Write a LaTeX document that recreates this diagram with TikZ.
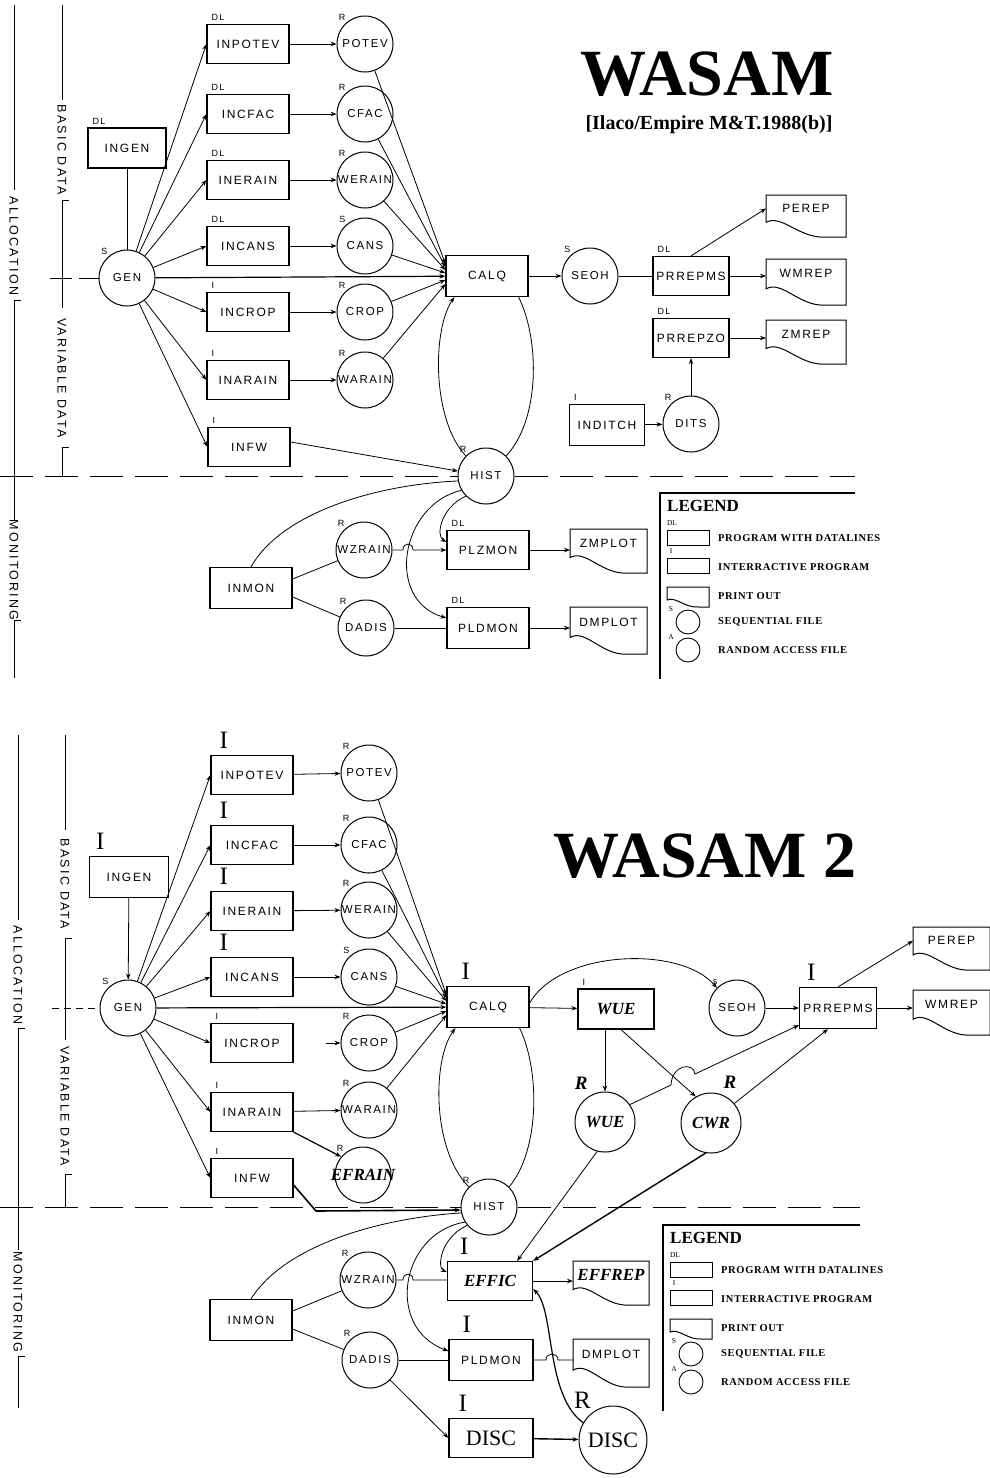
\documentclass[tikz,border=0pt]{standalone}
\usepackage{fontspec}
\setmainfont{Liberation Serif}
\newfontfamily\lettering[LetterSpace=14]{Liberation Sans}
\newfontfamily\rulerfont[LetterSpace=18]{Liberation Sans}
\newfontfamily\legendfont[LetterSpace=6]{Liberation Serif}
\usetikzlibrary{arrows.meta, calc}

\newcommand{\emphlbl}{\rmfamily\bfseries\itshape\fontsize{17}{17}\selectfont}
\newcommand{\disclbl}{\rmfamily\fontsize{22}{22}\selectfont}

\tikzset{
  prog/.style={draw, line width=1.2pt, minimum width=82pt, minimum height=39pt, inner sep=0pt,
    font=\lettering\fontsize{12}{12}\selectfont},
  file/.style={draw, circle, line width=1pt, minimum size=56pt, inner sep=0pt,
    font=\lettering\fontsize{11.5}{12}\selectfont},
  prtext/.style={font=\lettering\fontsize{12}{12}\selectfont, inner sep=0pt},
  tag/.style={font=\lettering\fontsize{9}{9}\selectfont, inner sep=1pt},
  bigtag/.style={font=\rmfamily\fontsize{25}{25}\selectfont, inner sep=0pt},
  dl/.style={label={[tag, anchor=south west, xshift=4pt, yshift=2pt]north west:#1}},
  bigI/.style={label={[bigtag, anchor=south west, xshift=#1, yshift=6pt]north west:I}},
  bigI/.default=9pt,
  ftag/.style={label={[tag]130:#1}},
  bigR/.style={label={[bigtag, font=\rmfamily\bfseries\itshape\fontsize{19}{19}\selectfont, label distance=6pt]#1:R}},
  flow/.style={line width=0.8pt, -{Stealth[length=6pt, width=4.5pt]}},
  link/.style={line width=0.8pt},
  divider/.style={line width=1pt, dash pattern=on 33pt off 12pt},
  rulertext/.style={font=\rulerfont\fontsize{12.5}{12.5}\selectfont, rotate=-90, inner sep=0pt},
  titlefont/.style={font=\rmfamily\bfseries\fontsize{66}{66}\selectfont, inner sep=0pt},
  sourcefont/.style={font=\rmfamily\bfseries\fontsize{20}{20}\selectfont, inner sep=0pt},
  legtitle/.style={anchor=west, font=\rmfamily\bfseries\fontsize{17}{17}\selectfont, inner sep=0pt},
  legtext/.style={anchor=west, font=\legendfont\bfseries\fontsize{10.5}{11}\selectfont, inner sep=0pt},
  legtag/.style={font=\rmfamily\fontsize{7.5}{7.5}\selectfont, inner sep=0pt},
}

% print out: name, top left corner, width, height, text
\newcommand{\printout}[5]{%
  \begin{scope}[shift={(#2)}]
    \draw[line width=1pt] (0,0) -- (0,{0.65*#4})
      .. controls ({0.2*#3},{0.45*#4}) and ({0.42*#3},{1.05*#4}) .. ({0.75*#3},#4)
      -- (#3,#4) -- (#3,0) -- cycle;
    \node[prtext] (#1) at ({0.5*#3},{0.32*#4}) {#5};
    \coordinate (#1-w) at (0,{0.32*#4});
  \end{scope}}

% legend: corner, length of the top line
\newcommand{\legendframe}[2]{%
  \begin{scope}[shift={(#1)}]
    \draw[line width=1.2pt] (0,186) -- (0,0) -- (#2,0);
    \node[legtitle] (legtitle) at (7,13) {LEGEND};
    \node[legtag] (legdl) at (12,30) {DL};
    \draw[line width=0.9pt] (7,37) rectangle (49,52);
    \node[legtext] (legprog) at (58,45) {PROGRAM WITH DATALINES};
    \node[legtag] (legi) at (11,58) {I};
    \draw[line width=0.9pt] (7,65) rectangle (49,80);
    \node[legtext] (leginter) at (58,74) {INTERRACTIVE PROGRAM};
    \printout{legprint}{7,94}{42}{20}{}
    \node[legtext] (legpo) at (58,103) {PRINT OUT};
    \node[legtag] (legs) at (11,116) {S};
    \node[draw, circle, minimum size=24pt, inner sep=0pt, line width=0.9pt] (legseq) at (28,129) {};
    \node[legtext] (legseqt) at (58,129) {SEQUENTIAL FILE};
    \node[legtag] (lega) at (11,144) {A};
    \node[draw, circle, minimum size=24pt, inner sep=0pt, line width=0.9pt] (legran) at (28,157) {};
    \node[legtext] (legrant) at (58,157) {RANDOM ACCESS FILE};
  \end{scope}}

\begin{document}
\begin{tikzpicture}[x=1pt, y=-1pt]
\useasboundingbox (0,0) rectangle (989,1478);

%%%%%%%%%%%%%%%% WASAM %%%%%%%%%%%%%%%%
\begin{scope}[name prefix=top-]
  % rulers on the left
  \draw[link] (14,5) -- (14,190) (14,300) -- (14,520) (14,620) -- (14,678);
  \draw[link] (62,5) -- (62,100) (62,200) -- (62,308) (62,447) -- (62,476);
  \draw[link] (14,300) -- (21,300) (14,620) -- (21,620) (62,200) -- (69,200) (62,447) -- (69,447);
  \node[rulertext] (alloc) at (14,246) {ALLOCATION};
  \node[rulertext] (monit) at (14,570) {MONITORING};
  \node[rulertext] (basic) at (62,150) {BASIC DATA};
  \node[rulertext] (variable) at (62,378) {VARIABLE DATA};

  % title
  \node[titlefont] (title) at (707,74) {WASAM};
  \node[sourcefont] (source) at (709,125) {[Ilaco/Empire M\&T.1988(b)]};

  % general data
  \node[prog, minimum width=78pt, minimum height=40pt, dl=DL] (ingen) at (127,148) {INGEN};
  \node[file, ftag=S] (gen) at (127,278) {GEN};
  \draw[link] (ingen) -- (gen);
  \draw[link] (50,278) -- (72,278);
  \draw[link] (79,278) -- (gen.west);

  % input programs and their files
  \foreach \n/\t/\y/\k/\c/\ct/\ck in {inpotev/INPOTEV/44/DL/potev/POTEV/R,
      incfac/INCFAC/114/DL/cfac/CFAC/R, inerain/INERAIN/180/DL/werain/WERAIN/R,
      incans/INCANS/246/DL/cans/CANS/S, incrop/INCROP/312/I/crop/CROP/R,
      inarain/INARAIN/380/I/warain/WARAIN/R}
  {
    \node[prog, dl=\k] (\n) at (248,\y) {\t};
    \node[file, ftag=\ck] (\c) at (365,\y) {\ct};
    \draw[flow] (\n) -- (\c);
  }
  \node[prog, dl=I] (infw) at (249,447) {INFW};
  \foreach \n in {inpotev, incfac, inerain, incans, incrop, inarain, infw}
    \draw[flow] (gen) -- (\n.west);

  % calculation
  \node[prog, minimum height=41pt] (calq) at (487,276) {CALQ};
  \node[file, ftag=R] (hist) at (486,476) {HIST};
  \foreach \c/\o in {potev/-12, cfac/-9, werain/-6, cans/-3, crop/4, warain/8}
    \draw[flow] (\c) -- ($(calq.west)+(0,\o)$);
  \draw[flow, line width=1.2pt] (gen) -- (calq);
  \draw[flow] (hist.135) .. controls (432,420) and (432,330) .. ($(calq.south west)+(9,0)$);
  \draw[link] ($(calq.south east)+(-10,0)$) .. controls (540,340) and (540,420) .. (hist.45);
  \draw[flow] ($(infw.east)+(0,-5)$) -- (hist.170);

  % border allocation / monitoring
  \draw[divider] (0,476) -- (hist.west);
  \draw[divider] (hist.east) -- (855,476);

  % reports
  \node[file, ftag=S] (seoh) at (590,276) {SEOH};
  \node[prog, minimum width=76pt, dl=DL] (prrepms) at (691,276) {PRREPMS};
  \node[prog, minimum width=76pt, dl=DL] (prrepzo) at (691,338) {PRREPZO};
  \printout{perep}{766,195}{80}{42}{PEREP}
  \printout{wmrep}{766,259}{80}{46}{WMREP}
  \printout{zmrep}{766,320}{80}{44}{ZMREP}
  \node[prog, minimum width=75pt, minimum height=41pt, dl=I] (inditch) at (607,425) {INDITCH};
  \node[file, ftag=R] (dits) at (691,424) {DITS};
  \draw[flow] (calq) -- (seoh);
  \draw[link] (seoh) -- (prrepms);
  \draw[flow] (prrepms.north) -- (perep-w);
  \draw[flow] (prrepms.east) -- (prrepms.east -| wmrep-w);
  \draw[flow] (prrepzo.east) -- (prrepzo.east -| zmrep-w);
  \draw[flow] (inditch) -- (dits);
  \draw[flow] (dits) -- (prrepzo);

  % monitoring
  \node[prog, minimum height=41pt] (inmon) at (251,588) {INMON};
  \node[file, ftag=R] (wzrain) at (364,550) {WZRAIN};
  \node[file, ftag=R] (dadis) at (366,628) {DADIS};
  \node[prog, dl=DL] (plzmon) at (488,550) {PLZMON};
  \node[prog, minimum height=41pt, dl=DL] (pldmon) at (488,628) {PLDMON};
  \printout{zmplot}{570,529}{77}{44}{ZMPLOT}
  \printout{dmplot}{570,607}{77}{47}{DMPLOT}
  \coordinate (hopl) at (403,550);
  \coordinate (hopr) at (413,550);
  \draw[link] (inmon.north) .. controls (280,515) and (370,485) .. (hist.190);
  \draw[link] ($(inmon.east)+(0,-9)$) -- (wzrain);
  \draw[link] ($(inmon.east)+(0,9)$) -- (dadis);
  \draw[flow] (wzrain) -- (hopl) .. controls +(0,-8) and +(0,-8) .. (hopr) -- (plzmon.west |- wzrain);
  \draw[link] (dadis) -- (pldmon);
  \draw[flow] (hist.225) .. controls (440,508) and (436,536) .. ($(plzmon.west)+(0,-8)$);
  \draw[flow] (hist.210) .. controls (400,505) and (385,600) .. ($(pldmon.west)+(0,-10)$);
  \draw[flow] (plzmon.east) -- (plzmon.east -| zmplot-w);
  \draw[flow] (pldmon.east) -- (pldmon.east -| dmplot-w);

  \legendframe{660,493}{195}
\end{scope}

%%%%%%%%%%%%%%%% WASAM 2 %%%%%%%%%%%%%%%%
\begin{scope}[name prefix=bot-]
  % rulers on the left
  \draw[link] (18,735) -- (18,920) (18,1028) -- (18,1250) (18,1356) -- (18,1408);
  \draw[link] (65,735) -- (65,830) (65,938) -- (65,1040) (65,1174) -- (65,1207);
  \draw[link] (18,1028) -- (25,1028) (18,1356) -- (25,1356) (65,938) -- (72,938) (65,1174) -- (72,1174);
  \node[rulertext] (alloc) at (18,975) {ALLOCATION};
  \node[rulertext] (monit) at (18,1302) {MONITORING};
  \node[rulertext] (basic) at (65,884) {BASIC DATA};
  \node[rulertext] (variable) at (65,1106) {VARIABLE DATA};

  % title
  \node[titlefont] (title) at (705,856) {WASAM 2};

  % general data
  \node[prog, minimum width=79pt, minimum height=41pt, bigI=7pt] (ingen) at (129,877) {INGEN};
  \node[file, ftag=S] (gen) at (128,1008) {GEN};
  \draw[flow] (ingen) -- (gen);
  \draw[link, dash pattern=on 7pt off 5pt] (52,1008) -- (gen.west);

  % input programs and their files
  \foreach \n/\t/\y in {inpotev/INPOTEV/775, incfac/INCFAC/845, inerain/INERAIN/911, incans/INCANS/977}
    \node[prog, bigI] (\n) at (252,\y) {\t};
  \foreach \n/\t/\y in {incrop/INCROP/1043, inarain/INARAIN/1112, infw/INFW/1178}
    \node[prog, dl=I] (\n) at (252,\y) {\t};
  \foreach \c/\t/\y/\k in {potev/POTEV/773/R, cfac/CFAC/845/R, werain/WERAIN/910/R,
      cans/CANS/977/S, crop/CROP/1043/R, warain/WARAIN/1110/R}
    \node[file, ftag=\k] (\c) at (369,\y) {\t};
  \node[file, ftag=R] (efrain) at (363,1175) {};
  \node[font=\emphlbl, inner sep=0pt] (efraintext) at (efrain) {EFRAIN};
  \foreach \n/\c in {inpotev/potev, incfac/cfac, inerain/werain, incans/cans, inarain/warain}
    \draw[flow] (\n) -- (\c);
  \coordinate (cropstub) at (326,1043);
  \draw[flow] (cropstub) -- (crop);
  \foreach \n in {inpotev, incfac, inerain, incans, incrop, inarain, infw}
    \draw[flow] (gen) -- (\n.west);
  \draw[flow, line width=1.2pt] (inarain.south east) -- (efrain.140);

  % calculation
  \node[prog, minimum height=41pt, bigI=15pt] (calq) at (488,1007) {CALQ};
  \node[file, ftag=R] (hist) at (489,1207) {HIST};
  \foreach \c/\o in {potev/-12, cfac/-9, werain/-6, cans/-3, crop/4, warain/8}
    \draw[flow] (\c) -- ($(calq.west)+(0,\o)$);
  \draw[flow, line width=1.2pt] (gen) -- (calq);
  \draw[flow] (hist.135) .. controls (432,1150) and (432,1060) .. ($(calq.south west)+(9,0)$);
  \draw[link] ($(calq.south east)+(-10,0)$) .. controls (540,1070) and (540,1150) .. (hist.45);
  \coordinate (fwbend) at (316,1211);
  \draw[flow, line width=1.6pt] ($(infw.east)+(0,7)$) -- (fwbend) -- (hist.186);

  % border allocation / monitoring
  \draw[divider] (0,1207) -- (hist.west);
  \draw[divider] (hist.east) -- (860,1207);

  % water use efficiency and reports
  \node[prog, minimum width=76pt, minimum height=40pt, dl=I] (wue) at (616,1009) {\emphlbl WUE};
  \node[file, ftag=s] (seoh) at (737,1008) {SEOH};
  \node[prog, minimum width=77pt, minimum height=41pt, bigI=8pt] (prrepms) at (838,1008) {PRREPMS};
  \printout{perep}{913,927}{77}{43}{PEREP}
  \printout{wmrep}{913,990}{77}{45}{WMREP}
  \node[file, minimum size=60pt, bigR=118] (wuef) at (605,1122) {\emphlbl WUE};
  \node[file, minimum size=60pt, bigR=70] (cwr) at (711,1123) {\emphlbl CWR};
  \draw[flow] (calq) -- (wue);
  \draw[flow] ($(calq.east)+(0,-4)$) .. controls (560,950) and (680,945) .. (seoh.135);
  \draw[flow] (seoh) -- (prrepms);
  \draw[flow] (prrepms.north) -- (perep-w);
  \draw[flow] (prrepms.east) -- (prrepms.east -| wmrep-w);
  \draw[flow] (wue.south -| wuef.north) -- (wuef.north);
  \draw[flow] ($(wue.south)+(5,0)$) -- (cwr.120);
  \coordinate (hopa) at (671,1085);
  \coordinate (hopb) at (695,1074);
  \draw[flow] (wuef.35) -- (hopa) .. controls (672,1064) and (694,1062) .. (hopb)
    -- ($(prrepms.south west)+(0,-4)$);
  \draw[flow] (cwr.40) -- ($(prrepms.south)+(-10,0)$);

  % monitoring
  \node[prog, minimum height=41pt] (inmon) at (251,1320) {INMON};
  \node[file, ftag=R] (wzrain) at (368,1280) {WZRAIN};
  \node[file, ftag=R] (dadis) at (370,1360) {DADIS};
  \node[prog, minimum width=85pt, bigI=13pt] (effic) at (490,1281) {\emphlbl EFFIC};
  \printout{effrep}{573,1261}{76}{44}{\emphlbl EFFREP}
  \node[prog, minimum width=84pt, minimum height=41pt, bigI=14pt] (pldmon) at (491,1360) {PLDMON};
  \printout{dmplot}{573,1339}{76}{48}{DMPLOT}
  \node[prog, minimum width=84pt, bigI=10pt] (discp) at (491,1438) {\disclbl DISC};
  \node[file, minimum size=68pt, label={[bigtag, label distance=4pt]125:R}] (discf) at (613,1440) {\disclbl DISC};
  \coordinate (hopc) at (403,1280);
  \coordinate (hopd) at (413,1280);
  \coordinate (hope) at (546,1360);
  \coordinate (hopf) at (558,1360);
  \draw[link] (inmon.north) .. controls (285,1245) and (380,1218) .. (hist.192);
  \draw[link] ($(inmon.east)+(0,-9)$) -- (wzrain);
  \draw[link] ($(inmon.east)+(0,9)$) -- (dadis);
  \draw[link] (wzrain) -- (hopc) .. controls +(0,-8) and +(0,-8) .. (hopd) -- (effic.west |- wzrain);
  \draw[flow] (hist.220) .. controls (440,1238) and (437,1268) .. ($(effic.west)+(0,-9)$);
  \draw[flow] (hist.212) .. controls (400,1233) and (385,1328) .. ($(pldmon.west)+(0,-9)$);
  \draw[flow] (wuef.255) -- ($(effic.north east)+(-16,0)$);
  \draw[flow, line width=1.4pt] (cwr.260) -- (effic.north east);
  \draw[flow] (effic.east) -- (effic.east -| effrep-w);
  \draw[link] (dadis) -- (pldmon);
  \draw[link] (pldmon.east) -- (hope) .. controls +(0,-8) and +(0,-8) .. (hopf) -- (pldmon.east -| dmplot-w);
  \draw[flow] (dadis) -- (discp.west);
  \draw[flow, line width=1.4pt] (discp) -- (discf);
  \draw[flow, line width=1.2pt] (discf.150) .. controls (545,1395) and (555,1310) .. ($(effic.east)+(0,8)$);

  \legendframe{663,1225}{197}
\end{scope}
\end{tikzpicture}
\end{document}
